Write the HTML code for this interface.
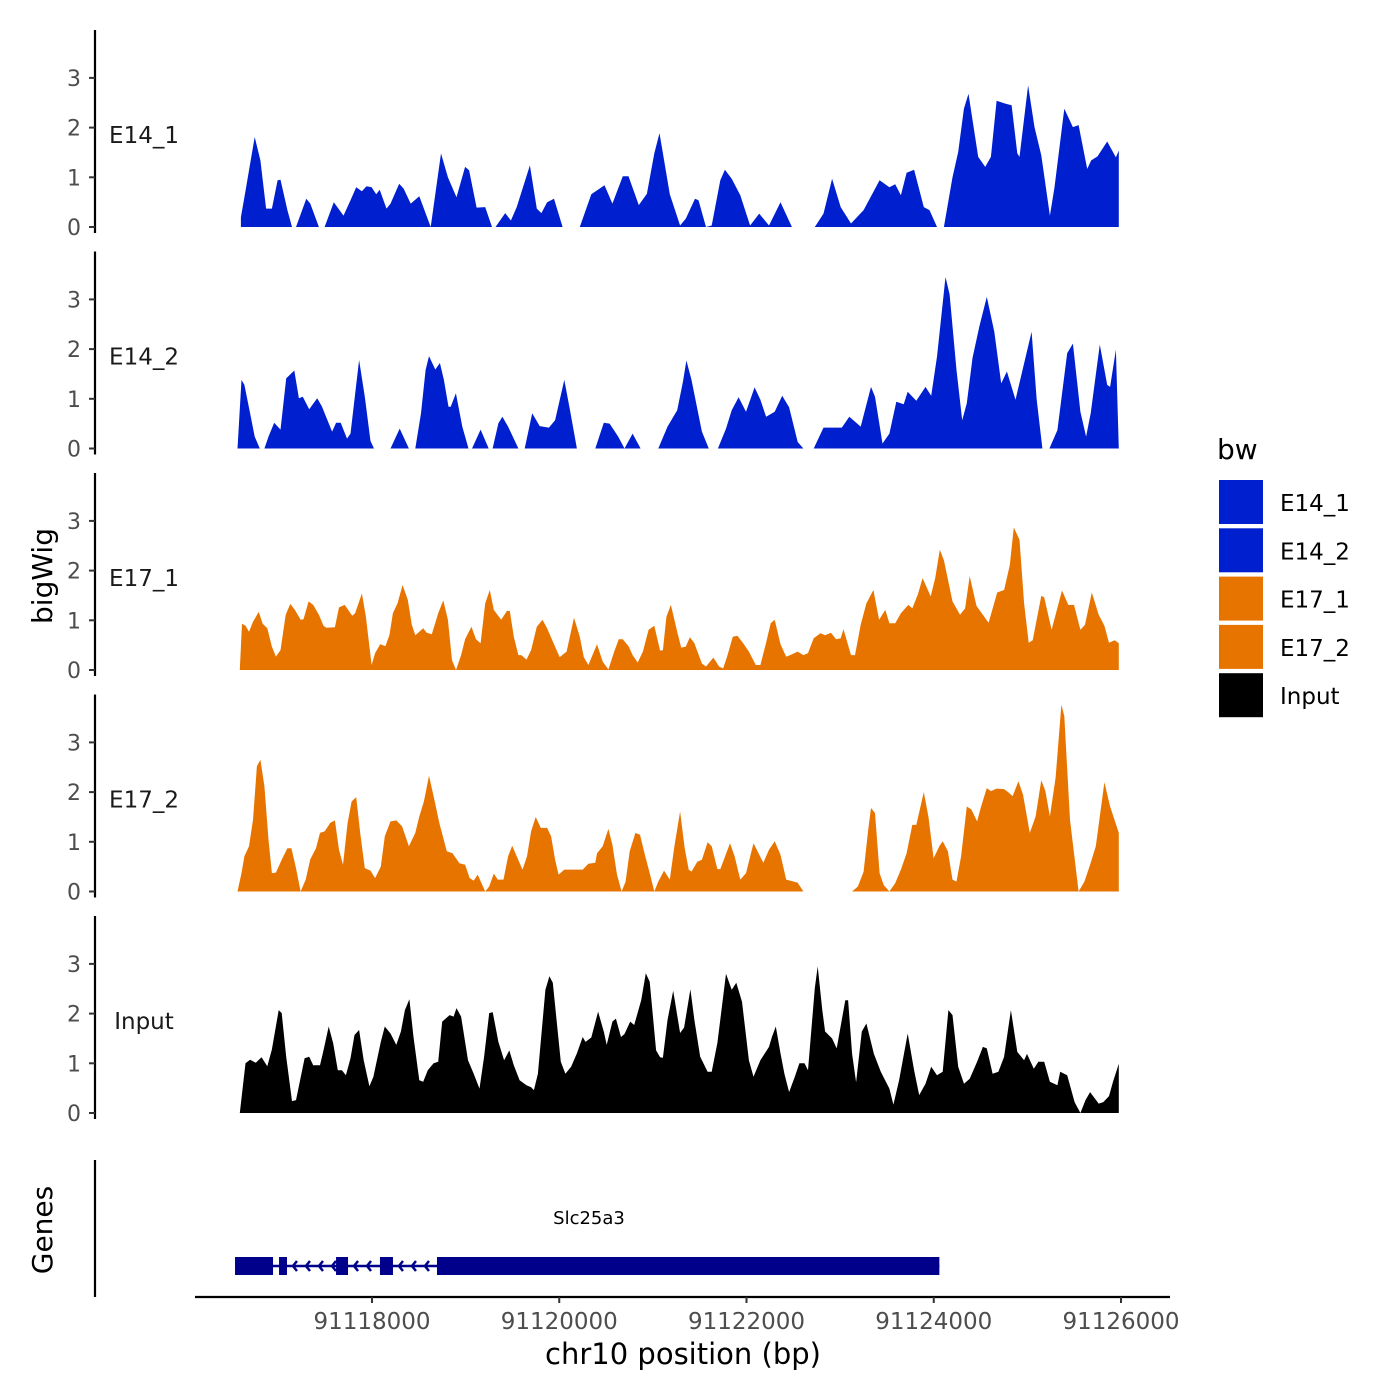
<!DOCTYPE html>
<html><head><meta charset="utf-8">
<style>
html,body{margin:0;padding:0;background:#fff;}
svg{display:block;font-family:"DejaVu Sans","Liberation Sans",sans-serif;}
</style></head>
<body>
<svg id="chart" width="1400" height="1400" viewBox="0 0 1400 1400" xmlns="http://www.w3.org/2000/svg">
  <rect x="0" y="0" width="1400" height="1400" fill="#fff"/>
  <g id="tracks"></g>
  <g id="genes"></g>
  <g id="xaxis"></g>
  <text x="52" y="576" transform="rotate(-90 52 576)" text-anchor="middle" font-size="28" fill="#000">bigWig</text>
  <text x="52" y="1230" transform="rotate(-90 52 1230)" text-anchor="middle" font-size="28" fill="#000">Genes</text>
  <text x="683" y="1364" text-anchor="middle" font-size="29" fill="#000">chr10 position (bp)</text>
  <g id="legend"></g>
</svg>
<script>
const regionStart = 91116600;
const trackNames = ["E14_1","E14_2","E17_1","E17_2","Input"];
const trackColors = ["#0020D0","#0020D0","#E87400","#E87400","#000000"];
const yTicks = [0,1,2,3];
const xTicks = [91118000,91120000,91122000,91124000,91126000];

const e14_1_pos = [0,37,147,208,269,331,392,423,496,545,588,698,741,833,894,992,1096,1170,1231,1292,1341,1396,1445,1482,1555,1598,1690,1739,1813,1905,2027,2137,2211,2303,2394,2437,2517,2609,2682,2719,2823,2884,2946,3086,3160,3209,3270,3344,3436,3619,3742,3883,3968,4079,4140,4250,4336,4415,4471,4581,4691,4752,4850,4887,4967,5028,5120,5169,5242,5334,5438,5536,5640,5763,5885,6130,6222,6314,6406,6516,6651,6822,6926,6988,7049,7110,7190,7294,7355,7435,7508,7600,7661,7722,7771,7875,7949,8010,8071,8169,8231,8292,8316,8408,8476,8549,8641,8690,8794,8886,8947,9039,9082,9149,9253,9345,9376];
const e14_1_val = [0.2,0.6,1.81,1.34,0.37,0.37,0.94,0.95,0.34,0,0,0.57,0.47,0,0,0.5,0.23,0.54,0.8,0.72,0.82,0.8,0.66,0.75,0.37,0.47,0.87,0.77,0.47,0.62,0,1.48,1.0,0.6,1.21,1.14,0.39,0.4,0,0,0.28,0.13,0.4,1.24,0.37,0.28,0.5,0.57,0,0,0.66,0.84,0.47,1.02,1.02,0.44,0.67,1.48,1.89,0.66,0.03,0.17,0.57,0.54,0,0.03,0.94,1.15,0.97,0.64,0.03,0.27,0.03,0.5,0,0,0.27,0.97,0.4,0.07,0.34,0.94,0.8,0.86,0.64,1.09,1.15,0.4,0.34,0,0,1.0,1.51,2.38,2.68,1.41,1.21,1.41,2.54,2.48,2.45,1.48,1.41,2.85,2.01,1.44,0.23,0.8,2.38,2.01,2.05,1.17,1.34,1.42,1.72,1.4,1.54];

const e14_2_pos = [-37,6,37,98,147,202,251,294,355,423,484,570,619,661,729,815,864,974,1017,1066,1133,1170,1262,1323,1384,1421,1598,1696,1794,1862,1923,1972,2009,2076,2125,2168,2217,2241,2296,2364,2431,2468,2560,2646,2688,2750,2793,2854,2964,3031,3111,3191,3289,3356,3454,3515,3589,3785,3876,3938,4030,4097,4183,4269,4458,4556,4660,4722,4758,4813,4924,4997,5095,5181,5242,5316,5395,5487,5548,5609,5701,5781,5855,5947,6008,6118,6222,6418,6498,6620,6730,6773,6853,6926,7000,7079,7122,7214,7312,7373,7435,7526,7569,7643,7704,7753,7814,7888,7967,8047,8120,8181,8273,8353,8445,8500,8561,8635,8721,8825,8886,8966,9027,9076,9174,9253,9284,9345,9376];
const e14_2_val = [0,1.38,1.28,0.71,0.24,0,0,0.24,0.52,0.38,1.41,1.57,1.01,1.04,0.79,1.01,0.85,0.34,0.52,0.52,0.2,0.3,1.78,1.04,0.15,0,0,0.4,0,0,0.71,1.58,1.86,1.59,1.72,1.38,0.84,0.84,1.11,0.44,0,0,0.38,0,0,0.51,0.64,0.44,0,0,0.71,0.45,0.42,0.57,1.38,0.77,0,0,0.52,0.5,0.24,0,0.3,0,0,0.44,0.77,1.35,1.77,1.38,0.34,0,0,0.4,0.77,1.03,0.74,1.23,0.98,0.64,0.74,1.06,0.83,0.13,0,0,0.42,0.42,0.64,0.44,1.24,1.04,0.1,0.3,0.94,0.89,1.14,0.96,1.24,1.06,1.85,3.45,3.1,1.58,0.57,0.91,1.82,2.46,3.05,2.35,1.31,1.55,0.98,1.62,2.35,0.98,0,0,0.37,1.92,2.11,0.74,0.24,0.71,2.09,1.28,1.24,1.99,0];

const e17_1_pos = [-12,12,49,86,129,190,233,282,331,374,423,478,527,576,637,668,723,772,833,882,912,1004,1047,1108,1188,1219,1292,1335,1396,1433,1488,1543,1586,1623,1672,1727,1782,1825,1862,1905,1947,1984,2039,2107,2162,2211,2254,2297,2352,2394,2462,2511,2560,2609,2658,2701,2780,2842,2872,2915,2964,2995,3050,3099,3160,3221,3270,3344,3405,3478,3558,3619,3662,3711,3803,3864,3925,3987,4036,4079,4140,4183,4238,4293,4354,4415,4477,4507,4544,4593,4660,4703,4752,4795,4844,4924,4967,5046,5107,5150,5193,5254,5303,5365,5426,5499,5548,5609,5659,5701,5763,5824,5867,5946,6008,6057,6118,6191,6240,6302,6357,6406,6436,6516,6559,6620,6681,6755,6816,6883,6926,6988,7049,7128,7171,7232,7281,7367,7416,7465,7508,7600,7680,7735,7784,7857,7986,8078,8151,8212,8255,8316,8365,8414,8457,8549,8580,8659,8733,8770,8837,8898,8966,9015,9088,9162,9223,9272,9333,9376];
const e17_1_val = [0,0.93,0.89,0.77,0.97,1.17,0.93,0.84,0.47,0.27,0.4,1.11,1.33,1.21,1.01,1.02,1.38,1.31,1.11,0.89,0.85,0.86,1.26,1.31,1.09,1.14,1.54,1.07,0.1,0.34,0.52,0.48,0.7,1.14,1.34,1.71,1.41,0.91,0.7,0.77,0.84,0.75,0.72,1.14,1.4,1.01,0.2,0,0.3,0.62,0.87,0.62,0.54,1.34,1.61,1.21,1.01,1.19,1.19,0.67,0.3,0.3,0.21,0.4,0.87,1.01,0.84,0.52,0.26,0.37,1.05,0.67,0.26,0.1,0.52,0.17,0.01,0.37,0.62,0.62,0.48,0.3,0.15,0.37,0.81,0.89,0.39,0.4,1.07,1.31,0.77,0.45,0.47,0.66,0.54,0.13,0.07,0.25,0.07,0.03,0.27,0.67,0.69,0.54,0.37,0.1,0.1,0.55,0.94,1.01,0.52,0.27,0.3,0.37,0.3,0.34,0.64,0.74,0.7,0.75,0.62,0.64,0.82,0.3,0.3,0.91,1.34,1.61,1.01,1.21,0.94,0.94,1.14,1.31,1.24,1.53,1.85,1.48,1.85,2.42,2.21,1.38,1.11,1.24,1.89,1.29,0.95,1.56,1.61,2.11,2.87,2.62,1.34,0.55,0.6,1.49,1.46,0.81,1.34,1.6,1.31,1.31,0.81,0.91,1.56,1.11,0.89,0.55,0.6,0.54];

const e17_2_pos = [-37,6,37,86,129,171,208,251,294,331,374,435,496,539,588,637,692,741,802,845,894,955,1004,1047,1090,1139,1182,1231,1274,1323,1384,1433,1494,1537,1598,1660,1721,1794,1862,1905,1954,2009,2058,2119,2199,2260,2333,2394,2443,2486,2529,2609,2652,2701,2744,2805,2854,2897,2946,3007,3056,3099,3148,3203,3270,3313,3356,3393,3454,3650,3711,3785,3803,3864,3925,3968,4017,4066,4109,4152,4213,4262,4311,4366,4415,4458,4519,4581,4630,4691,4740,4783,4813,4874,4924,4985,5028,5089,5120,5150,5224,5273,5334,5395,5475,5518,5579,5640,5701,5763,5824,5946,6008,6528,6590,6651,6700,6730,6773,6822,6865,6926,6988,7049,7110,7171,7214,7294,7343,7398,7459,7496,7551,7600,7643,7692,7753,7802,7863,7906,7967,8010,8071,8151,8194,8243,8304,8353,8426,8488,8549,8592,8641,8702,8763,8794,8855,8947,9009,9070,9131,9174,9223,9284,9376];
const e17_2_val = [0,0.37,0.71,0.91,1.44,2.52,2.65,2.12,1.04,0.37,0.38,0.64,0.87,0.87,0.47,0,0.24,0.65,0.87,1.18,1.21,1.38,1.43,0.84,0.54,1.38,1.81,1.9,1.18,0.47,0.42,0.27,0.5,1.11,1.41,1.43,1.31,0.91,1.18,1.51,1.81,2.33,1.92,1.38,0.81,0.77,0.57,0.54,0.27,0.22,0.34,0,0.1,0.36,0.24,0.24,0.71,0.92,0.71,0.44,0.71,1.21,1.5,1.28,1.28,1.11,0.64,0.34,0.44,0.44,0.56,0.58,0.77,0.91,1.26,0.94,0.34,0,0.2,0.81,1.18,1.14,0.77,0.37,0,0.2,0.42,0.24,0.91,1.61,0.87,0.44,0.4,0.6,0.64,0.99,0.91,0.45,0.45,0.6,0.97,0.71,0.24,0.37,0.97,0.81,0.58,0.84,1.01,0.74,0.24,0.18,0,0,0.1,0.4,1.24,1.68,1.58,0.37,0.13,0,0.17,0.44,0.77,1.34,1.34,2.0,1.51,0.67,0.91,1.01,0.81,0.24,0.2,0.71,1.71,1.65,1.41,1.71,2.08,2.02,2.07,2.06,2.0,1.92,2.22,1.95,1.18,1.51,2.24,2.02,1.51,2.29,3.76,3.53,1.44,0,0.2,0.54,0.91,1.51,2.2,1.71,1.18];

const input_pos = [-12,49,98,159,220,282,331,404,435,484,545,588,680,729,772,845,882,937,986,1035,1078,1121,1170,1213,1262,1311,1372,1415,1494,1537,1598,1660,1709,1751,1800,1843,1905,1947,1996,2058,2107,2150,2229,2272,2303,2352,2425,2486,2548,2597,2652,2689,2750,2811,2866,2915,2976,3050,3099,3129,3172,3252,3295,3331,3417,3466,3527,3589,3650,3680,3742,3815,3877,3907,3968,4005,4060,4097,4158,4201,4275,4324,4366,4434,4477,4507,4556,4617,4691,4734,4801,4844,4905,4985,5028,5089,5181,5242,5291,5352,5426,5475,5548,5640,5671,5713,5763,5805,5855,5916,5965,6020,6057,6130,6161,6210,6240,6314,6363,6455,6485,6528,6571,6632,6681,6761,6834,6926,6969,7030,7122,7190,7245,7312,7373,7435,7496,7557,7600,7661,7723,7784,7863,7925,7967,8029,8090,8151,8224,8292,8365,8396,8469,8518,8580,8641,8721,8751,8825,8904,8966,9021,9070,9162,9211,9272,9315,9376];
const input_val = [0,1.0,1.07,1.01,1.12,0.94,1.28,2.07,2.01,1.13,0.24,0.26,1.1,1.13,0.96,0.96,1.26,1.74,1.4,0.86,0.86,0.76,1.1,1.57,1.67,1.06,0.54,0.73,1.43,1.74,1.6,1.37,1.64,2.07,2.29,1.53,0.66,0.63,0.86,1.0,1.03,1.84,1.97,1.94,2.11,1.94,1.06,0.79,0.49,1.13,2.01,2.03,1.43,1.06,1.26,0.96,0.66,0.56,0.52,0.46,0.79,2.48,2.75,2.62,1.03,0.79,0.93,1.2,1.53,1.43,1.52,2.04,1.63,1.37,1.84,1.9,1.53,1.59,1.84,1.77,2.27,2.81,2.64,1.26,1.12,1.11,1.87,2.46,1.61,1.72,2.49,1.87,1.13,0.83,0.83,1.41,2.8,2.48,2.62,2.24,1.06,0.73,1.06,1.33,1.53,1.74,1.2,0.79,0.42,0.73,1.0,1.0,0.86,2.51,2.95,2.07,1.64,1.5,1.3,2.27,2.27,1.19,0.62,1.64,1.8,1.19,0.83,0.49,0.17,0.66,1.6,0.86,0.36,0.59,0.93,0.76,0.83,2.07,1.97,0.93,0.59,0.69,1.03,1.33,1.3,0.79,0.83,1.13,2.07,1.23,1.06,1.19,0.89,1.03,1.03,0.63,0.56,0.83,0.76,0.22,0,0.26,0.42,0.19,0.22,0.34,0.63,0.99];

const trackPos = [e14_1_pos,e14_2_pos,e17_1_pos,e17_2_pos,input_pos];
const trackVal = [e14_1_val,e14_2_val,e17_1_val,e17_2_val,input_val];

const geneName = "Slc25a3";
const exonStarts = [91116537,91117007,91117616,91118085,91118694];
const exonEnds   = [91116943,91117092,91117744,91118224,91124060];

const NS = "http://www.w3.org/2000/svg";
function mk(tag, attrs, parent){const e=document.createElementNS(NS,tag);for(const k in attrs)e.setAttribute(k,attrs[k]);parent.appendChild(e);return e;}
function xScale(bp){return 372 + (bp-91118000)*0.093625;}
const panelStep = 221.5, zeroY0 = 227, unitPx = 49.7;
function yScale(i,v){return zeroY0 + i*panelStep - v*unitPx;}

const tracksG = document.getElementById('tracks');
for(let i=0;i<trackNames.length;i++){
  const g = mk('g',{},tracksG);
  
  
  const z = yScale(i,0);
  const p = trackPos[i], v = trackVal[i];
  let d = 'M'+xScale(regionStart+p[0]).toFixed(1)+','+z;
  for(let j=0;j<p.length;j++) d += 'L'+xScale(regionStart+p[j]).toFixed(1)+','+yScale(i,v[j]).toFixed(1);
  d += 'L'+xScale(regionStart+p[p.length-1]).toFixed(1)+','+z+'Z';
  const area = mk('path',{d:d,fill:trackColors[i]},g);
  
  
  const ax = mk('line',{x1:95,x2:95,y1:z-197,y2:z+6,stroke:'#000','stroke-width':2.2},g);
  
  
  for(const t of yTicks){
    const y = yScale(i,t);
    const tk = mk('line',{x1:89,x2:95,y1:y,y2:y,stroke:'#333','stroke-width':2},g);
    
    
    const tl = mk('text',{x:81,y:y+8,'text-anchor':'end','font-size':22,fill:'#4d4d4d'},g);
    tl.textContent = t;
    
    
  }
  const lab = mk('text',{x:144,y:z-84,'text-anchor':'middle','font-size':23,fill:'#1a1a1a'},g);
  lab.textContent = trackNames[i];
  
  
}

// genes
const gG = document.getElementById('genes');
const gax = mk('line',{x1:95,x2:95,y1:1160,y2:1297,stroke:'#000','stroke-width':2.2},gG);


const gl = mk('text',{x:589,y:1224,'text-anchor':'middle','font-size':18,fill:'#000'},gG);
gl.textContent = geneName;


const gx1 = xScale(exonStarts[0]), gx2 = xScale(exonEnds[exonEnds.length-1]);
const gline = mk('line',{x1:gx1,x2:gx2,y1:1266,y2:1266,stroke:'#00008B','stroke-width':2.5},gG);


for(let k=0;k<exonStarts.length-1;k++){
  const a = xScale(exonEnds[k]), b = xScale(exonStarts[k+1]);
  for(let x=a+6;x<b-4;x+=13){
    const ch = mk('path',{d:'M'+(x+4)+',1261L'+x+',1266L'+(x+4)+',1271',fill:'none',stroke:'#00008B','stroke-width':2.5},gG);
    
    
  }
}
for(let k=0;k<exonStarts.length;k++){
  const a = xScale(exonStarts[k]), b = xScale(exonEnds[k]);
  const ex = mk('rect',{x:a,y:1257,width:b-a,height:18,fill:'#00008B'},gG);
  
  
}

// x axis
const xa = document.getElementById('xaxis');
const xl = mk('line',{x1:195,x2:1170,y1:1297,y2:1297,stroke:'#000','stroke-width':2.2},xa);


for(const t of xTicks){
  const x = xScale(t);
  const tk = mk('line',{x1:x,x2:x,y1:1297,y2:1303,stroke:'#333','stroke-width':2},xa);
  
  
  const tl = mk('text',{x:x,y:1329,'text-anchor':'middle','font-size':23,fill:'#4d4d4d'},xa);
  tl.textContent = t;
  
  
}

// legend
const lg = document.getElementById('legend');
const lt = mk('text',{x:1217,y:459,'font-size':28,fill:'#000'},lg);
lt.textContent = 'bw';


for(let i=0;i<trackNames.length;i++){
  const y = 480 + i*48.3;
  const r = mk('rect',{x:1219,y:y,width:44,height:44,fill:trackColors[i]},lg);
  
  
  const t = mk('text',{x:1280,y:y+31,'font-size':23,fill:'#000'},lg);
  t.textContent = trackNames[i];
  
  
}
</script>
</body></html>
